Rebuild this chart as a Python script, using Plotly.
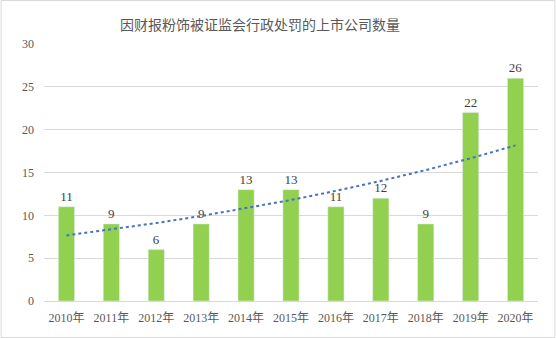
import numpy as np
import plotly.graph_objects as go

years = ["2010年", "2011年", "2012年", "2013年", "2014年", "2015年", "2016年", "2017年", "2018年", "2019年", "2020年"]
counts = [11, 9, 6, 9, 13, 13, 11, 12, 9, 22, 26]
title = "因财报粉饰被证监会行政处罚的上市公司数量"

# exponential trendline (least squares on log values), like Excel
xs = np.arange(1, len(counts) + 1)
b, ln_a = np.polyfit(xs, np.log(counts), 1)
trend = np.exp(ln_a + b * xs)

W, H = 556, 338
L, R, T, B = 43.5, 17.5, 44, 37
pw, ph = W - L - R, H - T - B

fig = go.Figure()
fig.add_trace(go.Bar(
    x=years, y=counts, marker_color="#92D050", width=0.36,
    text=[str(v) for v in counts], textposition="outside",
    textfont=dict(family="Liberation Serif, Noto Sans CJK SC", size=13, color="#404040"),
    cliponaxis=False, showlegend=False,
))
fig.add_trace(go.Scatter(
    x=years, y=trend, mode="lines",
    line=dict(color="#4472C4", width=2, dash="dot"), showlegend=False,
))

fig.update_layout(
    width=W, height=H,
    margin=dict(l=L, r=R, t=T, b=B),
    paper_bgcolor="white", plot_bgcolor="white",
    title=dict(text=title, x=(260 - L) / pw, xref="paper", xanchor="center",
               y=1 - 25 / H, yanchor="middle",
               font=dict(family="Noto Sans CJK SC", size=14, color="#595959")),
    bargap=0.64,
    xaxis=dict(showgrid=False, showline=True, linecolor="#D9D9D9", linewidth=1,
               ticks="", ticklabelstandoff=6,
               tickfont=dict(family="Liberation Serif, Noto Sans CJK SC", size=12, color="#595959")),
    yaxis=dict(range=[0, 30], dtick=5, showgrid=True, gridcolor="#D9D9D9", gridwidth=1,
               zeroline=False, showline=False, ticks="", ticklabelstandoff=9,
               tickfont=dict(family="Liberation Serif, Noto Sans CJK SC", size=12, color="#595959")),
    shapes=[dict(type="rect", xref="paper", yref="paper",
                 x0=(0.5 - L) / pw, x1=(W - 0.5 - L) / pw,
                 y0=(H - B - (H - 0.5)) / ph, y1=(H - B - 0.5) / ph,
                 line=dict(color="#D9D9D9", width=1), layer="below")],
)
fig.write_html("out.html")
